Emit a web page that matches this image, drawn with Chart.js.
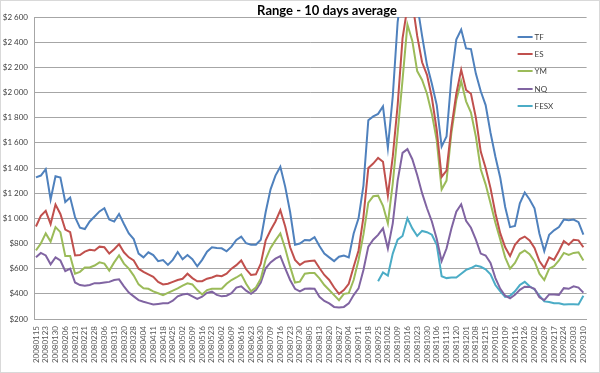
<!DOCTYPE html>
<html>
<head>
<meta charset="utf-8">
<title>Range - 10 days average</title>
<script src="https://cdn.jsdelivr.net/npm/chart.js@4.4.1/dist/chart.umd.min.js"></script>
<style>
  html, body { margin: 0; padding: 0; background: #fff; }
  canvas { display: block; }
</style>
</head>
<body>
<canvas id="range_chart" width="600" height="373"></canvas>

<script>
// weekly tick labels on the x axis
const dates = [
  '20080115', '20080123', '20080130', '20080206', '20080213', '20080221', '20080228', '20080306',
  '20080313', '20080320', '20080328', '20080404', '20080411', '20080418', '20080425', '20080502',
  '20080509', '20080516', '20080523', '20080602', '20080609', '20080616', '20080623', '20080630',
  '20080709', '20080716', '20080723', '20080730', '20080805', '20080813', '20080820', '20080827',
  '20080904', '20080911', '20080918', '20080925', '20081002', '20081009', '20081016', '20081023',
  '20081030', '20081106', '20081113', '20081120', '20081201', '20081208', '20081215', '20090102',
  '20090109', '20090116', '20090126', '20090202', '20090209', '20090217', '20090224', '20090303',
  '20090310'
];

const yTickLabels = ['$200', '$400', '$600', '$800', '$1 000', '$1 200', '$1 400',
  '$1 600', '$1 800', '$2 000', '$2 200', '$2 400', '$2 600'];

// values read every half week (two samples per tick label)
const tf = [
  1325, 1340, 1390, 1150, 1335, 1325, 1130, 1165, 1010, 925,
  915, 975, 1015, 1055, 1080, 990, 975, 1035, 955, 880,
  835, 720, 690, 730, 708, 660, 668, 630, 670, 732,
  675, 708, 675, 618, 670, 735, 770, 765, 762, 738,
  775, 828, 855, 802, 790, 790, 830, 1050, 1230, 1340,
  1410, 1250, 1050, 790, 800, 828, 825, 850, 780, 720,
  690, 660, 695, 705, 690, 880, 1000, 1260, 1780, 1810,
  1830, 1890, 1560, 1970, 2560, 2850, 2950, 2850, 2700, 2450,
  2220, 2070, 1900, 1570, 1650, 2120, 2420, 2500, 2350, 2345,
  2150, 2010, 1900, 1680, 1490, 1320, 1090, 930, 940, 1120,
  1205, 1150, 1080, 880, 740, 870, 905, 930, 990, 985,
  990, 970, 870
];

const es = [
  935, 1020, 1060, 955, 1110, 1035, 910, 890, 705, 708,
  735, 750, 745, 775, 770, 720, 755, 795, 730, 690,
  665, 600, 575, 555, 535, 495, 475, 480, 495, 510,
  520, 560, 525, 500, 500, 520, 530, 545, 540, 560,
  600, 628, 665, 595, 550, 555, 640, 825, 905, 975,
  1065, 935, 770, 670, 630, 655, 660, 665, 605, 550,
  510, 450, 400, 430, 480, 615, 745, 1010, 1400, 1435,
  1480, 1450, 1180, 1490, 1900, 2430, 2680, 2720, 2450, 2240,
  2140, 1960, 1700, 1330, 1380, 1720, 1990, 2180, 2020, 1990,
  1800, 1530, 1400, 1240, 1040, 880, 770, 700, 790, 835,
  855, 825, 765, 660, 605, 690, 670, 740, 820, 790,
  830, 825, 770
];

const ym = [
  745, 800, 880, 815, 930, 890, 700, 700, 560, 575,
  610, 610, 625, 650, 640, 585, 650, 705, 640, 600,
  545, 475, 445, 440, 420, 405, 390, 408, 425, 443,
  465, 483, 475, 430, 395, 430, 440, 440, 440, 480,
  510, 530, 555, 480, 420, 450, 520, 675, 765, 825,
  880, 760, 616, 490, 497, 560, 565, 565, 523, 470,
  430, 390, 350, 400, 405, 510, 669, 870, 1125, 1175,
  1180, 1100, 960, 1278, 1680, 2100, 2540, 2410, 2170, 2100,
  1990, 1830, 1620, 1230, 1300, 1680, 1940, 2090, 1930, 1840,
  1650, 1390, 1270, 1120, 965, 830, 690, 600, 645, 720,
  745, 715, 660, 560, 510, 600, 620, 665, 725, 710,
  725, 730, 665
];

const nq = [
  690, 725, 705, 635, 690, 665, 580, 600, 490, 470,
  465, 470, 485, 485, 490, 495, 510, 515, 460, 410,
  380, 350, 337, 326, 315, 320, 325, 325, 345, 380,
  395, 400, 380, 360, 377, 408, 417, 392, 380, 385,
  405, 450, 460, 425, 400, 430, 490, 603, 650, 680,
  700, 603, 510, 440, 420, 440, 443, 440, 377, 343,
  324, 296, 292, 296, 324, 390, 443, 590, 775, 830,
  868, 920, 760, 960, 1300, 1520, 1550, 1470, 1345, 1200,
  1080, 975, 835, 660, 760, 920, 1053, 1112, 980, 925,
  830, 720, 705, 645, 525, 440, 385, 365, 392, 432,
  457, 455, 440, 372, 350, 395, 395, 392, 445, 440,
  460, 450, 410
];

// FESX only starts at the end of September 2008
const fesx = [
  null, null, null, null, null, null, null, null, null, null,
  null, null, null, null, null, null, null, null, null, null,
  null, null, null, null, null, null, null, null, null, null,
  null, null, null, null, null, null, null, null, null, null,
  null, null, null, null, null, null, null, null, null, null,
  null, null, null, null, null, null, null, null, null, null,
  null, null, null, null, null, null, null, null, null, null,
  500, 570, 545, 720, 830, 860, 1000, 920, 860, 900,
  890, 870, 790, 540, 525, 530, 530, 560, 590, 605,
  625, 615, 595, 555, 470, 420, 375, 385, 420, 470,
  495, 460, 435, 385, 340, 335, 325, 325, 315, 318,
  318, 315, 385
];

const seriesNames = ['TF', 'ES', 'YM', 'NQ', 'FESX'];
const seriesValues = [tf, es, ym, nq, fesx];
const seriesColors = ['#4F81BD', '#C0504D', '#9BBB59', '#8064A2', '#4BACC6'];

const FONT = 'Lato, "Open Sans", sans-serif';

const toPoints = values => values.map((v, i) => ({ x: i / 2, y: v }));

const frame = {
  id: 'frame',
  beforeDraw(chart) {
    const c = chart.ctx;
    c.save();
    c.fillStyle = '#ffffff';
    c.fillRect(0, 0, chart.width, chart.height);
    c.strokeStyle = '#d9d9d9';
    c.lineWidth = 1;
    c.strokeRect(0.5, 0.5, chart.width - 1, chart.height - 1);
    c.restore();
  },
  afterDraw(chart) {
    const c = chart.ctx;
    const area = chart.chartArea;
    c.save();
    // title
    c.fillStyle = '#000000';
    c.font = 'bold 13px ' + FONT;
    c.textAlign = 'center';
    c.textBaseline = 'alphabetic';
    c.fillText('Range - 10 days average', 327, 15);
    // legend inside the plot, top right
    c.font = '8px ' + FONT;
    c.textAlign = 'left';
    c.textBaseline = 'middle';
    chart.data.datasets.forEach((ds, i) => {
      const y = Math.round(area.top + 20 + i * 17.2);
      c.strokeStyle = ds.borderColor;
      c.lineWidth = 2;
      c.beginPath();
      c.moveTo(area.right - 69, y);
      c.lineTo(area.right - 54, y);
      c.stroke();
      c.fillStyle = '#404040';
      c.fillText(ds.label, area.right - 52, y);
    });
    c.restore();
  }
};

new Chart(document.getElementById('range_chart'), {
  type: 'line',
  data: {
    datasets: seriesNames.map((name, i) => ({
      label: name,
      data: toPoints(seriesValues[i]),
      borderColor: seriesColors[i],
      backgroundColor: seriesColors[i],
      borderWidth: 2,
      pointRadius: 0,
      tension: 0,
      fill: false,
      spanGaps: false
    }))
  },
  options: {
    responsive: false,
    animation: false,
    layout: { padding: { left: 0, right: 3, top: 17, bottom: 0 } },
    plugins: {
      legend: { display: false },
      title: { display: false },
      tooltip: { enabled: false }
    },
    scales: {
      x: {
        type: 'linear',
        min: -0.2,
        max: 56.33,
        afterBuildTicks: s => { s.ticks = dates.map((d, i) => ({ value: i })); },
        afterFit: s => { s.height = 54; },
        grid: { display: false, drawTicks: false },
        border: { color: '#a6a6a6' },
        ticks: {
          autoSkip: false,
          maxRotation: 90,
          minRotation: 90,
          padding: 7,
          color: '#595959',
          font: { family: FONT, size: 8 },
          callback: v => dates[v] || ''
        }
      },
      y: {
        min: 200,
        max: 2600,
        afterFit: s => { s.width = 34; },
        grid: { color: '#a6a6a6', drawTicks: false },
        border: { color: '#a6a6a6' },
        ticks: {
          stepSize: 200,
          padding: 6,
          color: '#404040',
          font: { family: FONT, size: 8 },
          callback: v => yTickLabels[(v - 200) / 200]
        }
      }
    }
  },
  plugins: [frame]
});
</script>
</body>
</html>
